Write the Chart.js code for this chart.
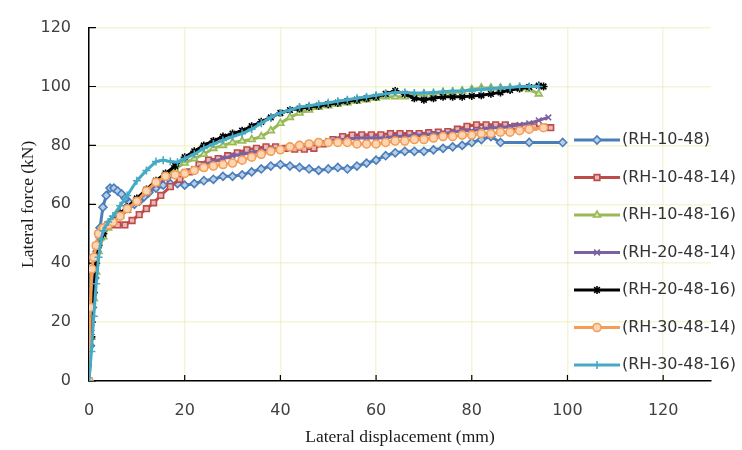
<!DOCTYPE html>
<html>
<head>
<meta charset="utf-8">
<script src="https://cdn.jsdelivr.net/npm/chart.js@4.4.1/dist/chart.umd.min.js"></script>
<style>
  html, body { margin: 0; padding: 0; background: #fff; }
  #wrap { width: 742px; height: 450px; }
</style>
</head>
<body>
<div id="wrap"><canvas id="chart" width="742" height="450"></canvas></div>
<script>
// values (displacement mm -> lateral force kN)
const seriesNames = ["(RH-10-48)", "(RH-10-48-14)", "(RH-10-48-16)", "(RH-20-48-14)", "(RH-20-48-16)", "(RH-30-48-14)", "(RH-30-48-16)"];
const xTicks = [0, 20, 40, 60, 80, 100, 120];
const yTicks = [0, 20, 40, 60, 80, 100, 120];

const rh1048X = [0, 0.3, 0.7, 1.2, 1.7, 2.3, 2.9, 3.6, 4.4, 5.2, 6, 6.8, 7.6, 8.5, 9.5, 10.5, 11.5, 12.5, 14, 15.5, 17, 18.5, 20, 22, 24, 26, 28, 30, 32, 34, 36, 38, 40, 42, 44, 46, 48, 50, 52, 54, 56, 58, 60, 62, 64, 66, 68, 70, 72, 74, 76, 78, 80, 82, 84, 86, 92, 99];
const rh1048Y = [0, 12, 25, 35, 44, 52, 59, 63, 65.5, 65.5, 64.5, 63.5, 62, 60.5, 60, 61, 62.5, 64, 65.5, 66.5, 67, 67, 66.5, 67, 68, 68.5, 69.5, 69.5, 70, 71, 72, 73, 73.5, 73, 72.5, 72, 71.5, 72, 72.5, 72, 73, 74, 75, 76.5, 77.5, 78, 78, 78, 78.5, 79, 79.5, 80, 81, 82, 83, 81, 81, 81];

const rh104814X = [0, 0.5, 1, 1.5, 2, 3, 4.5, 6, 7.5, 9, 10.5, 12, 13.5, 15, 17, 19, 21, 23, 25, 27, 29, 31, 33, 35, 37, 39, 41, 43, 45, 47, 49, 51, 53, 55, 57, 59, 61, 63, 65, 67, 69, 71, 73, 75, 77, 79, 81, 83, 85, 87, 89, 91, 93, 95, 96.5];
const rh104814Y = [0, 22, 36, 46, 50, 52, 53, 53, 53, 54.5, 56.5, 58.5, 60.5, 63, 66, 68.5, 71, 73.5, 75, 75.5, 76.5, 77.5, 78.5, 79, 79.5, 79.5, 79, 78.7, 78.7, 79, 80.5, 82, 83, 83.5, 83.6, 83.6, 83.6, 84, 84, 84, 84, 84.3, 84.5, 84.7, 85.5, 86.5, 87, 87, 87, 87, 86.5, 86.5, 86.3, 86.2, 86];

const rh104816X = [0, 0.5, 1, 1.5, 2, 3, 4, 5, 6.5, 8, 10, 12, 14, 16, 18, 20, 22, 24, 26, 28, 30, 32, 34, 36, 38, 40, 42, 44, 46, 48, 50, 52, 54, 56, 58, 60, 62, 64, 66, 68, 70, 72, 74, 76, 78, 80, 82, 84, 86, 88, 90, 92, 94];
const rh104816Y = [0, 15, 28, 37, 44, 49, 52, 54, 56, 58, 61, 64, 67, 70, 72, 74, 75.5, 77, 79, 80, 81, 81.5, 82, 83, 85, 87.5, 89.5, 91, 92, 93, 93.5, 94, 94.5, 95, 95.5, 96, 96.5, 96.5, 96.5, 97, 97.5, 97.5, 98, 98, 98.5, 99, 99.5, 99.5, 99.5, 99.5, 99.5, 99, 97.5];

const rh204814X = [0, 0.5, 1, 1.5, 2, 3, 4, 5, 6.5, 8, 10, 12, 14, 16, 18, 20, 22, 24, 26, 28, 30, 32, 34, 36, 38, 40, 42, 44, 46, 48, 50, 52, 54, 56, 58, 60, 62, 64, 66, 68, 70, 72, 74, 76, 78, 80, 82, 84, 86, 88, 90, 92, 94, 96];
const rh204814Y = [0, 18, 32, 42, 48, 51, 53, 54, 56, 58, 61, 64, 66.5, 68.5, 70, 71, 72, 73.5, 74.5, 75.5, 76.5, 77, 77.5, 78, 78.5, 79, 79.5, 80, 80.5, 81, 81.5, 82, 82, 82.5, 82.5, 82.5, 82.5, 83, 83, 83.5, 83.5, 84, 84, 84.5, 85, 85, 85.5, 86, 86, 86.5, 87, 87.5, 88.5, 89.5];

const rh204816X = [0, 0.5, 1, 1.5, 2, 3, 4, 5, 6.5, 8, 10, 12, 14, 16, 18, 20, 22, 24, 26, 28, 30, 32, 34, 36, 38, 40, 42, 44, 46, 48, 50, 52, 54, 56, 58, 60, 62, 64, 66, 68, 70, 72, 74, 76, 78, 80, 82, 84, 86, 88, 90, 92, 94, 95];
const rh204816Y = [0, 15, 30, 40, 46, 50, 53, 55, 57, 59, 62, 65, 68, 70.5, 73, 76, 78, 80, 81.5, 83, 84, 85, 86.5, 88, 89.5, 91, 92, 92.5, 93, 93.5, 94, 94.5, 95, 95.5, 96, 96.5, 97.5, 98.5, 97.5, 96, 95.5, 96, 96.5, 96.5, 96.5, 96.8, 97, 97.5, 98, 98.8, 99.3, 99.8, 100.3, 100];

const rh304814X = [0, 0.3, 0.6, 1, 1.5, 2, 3, 4, 5, 6.5, 8, 10, 12, 14, 16, 18, 20, 22, 24, 26, 28, 30, 32, 34, 36, 38, 40, 42, 44, 46, 48, 50, 52, 54, 56, 58, 60, 62, 64, 66, 68, 70, 72, 74, 76, 78, 80, 82, 84, 86, 88, 90, 92, 95];
const rh304814Y = [0, 25, 38, 42, 46, 50, 52, 53, 54, 56, 58.5, 61, 64.5, 67.5, 69.5, 70, 70.5, 71.5, 72.5, 73, 73.5, 74, 75, 76, 77, 78, 78.5, 79.5, 80, 80.5, 81, 81, 81, 81, 80.5, 80.5, 80.5, 81, 81.5, 81.5, 82, 82, 82.5, 83, 83, 83.5, 83.5, 84, 84, 84.5, 84.5, 85, 85.5, 86];

const rh304816X = [0, 0.5, 1, 1.5, 2, 2.5, 3, 4, 5, 6.5, 8, 10, 12, 14, 15.5, 17, 18.5, 20, 22, 24, 26, 28, 30, 32, 34, 36, 38, 40, 42, 44, 46, 48, 50, 52, 54, 56, 58, 60, 62, 64, 66, 68, 70, 72, 74, 76, 78, 80, 82, 84, 86, 88, 90, 92, 94];
const rh304816Y = [0, 10, 22, 33, 42, 48, 51, 54, 56, 59.5, 63, 68, 71.5, 74.5, 75, 74.5, 74.3, 75.5, 77, 79, 80.5, 81.7, 83, 84, 85.5, 87.5, 89.5, 91, 92, 93, 93.5, 94, 94.5, 95, 95.5, 96, 96.5, 97, 97.5, 98, 98, 97.8, 97.8, 98, 98.2, 98.5, 98.5, 98.8, 99, 99.3, 99.5, 99.7, 100, 100, 100];

const seriesX = [rh1048X, rh104814X, rh104816X, rh204814X, rh204816X, rh304814X, rh304816X];
const seriesY = [rh1048Y, rh104814Y, rh104816Y, rh204814Y, rh204816Y, rh304814Y, rh304816Y];

// Excel-like styling per series
const lineColors = ["#4A7EBB", "#BE4B48", "#98B954", "#7D60A0", "#000000", "#F59D56", "#46AAC5"];
const fillColors = ["#B9CDE5", "#E6B9B8", "#D7E4BD", "#7D60A0", "#000000", "#FCD5B5", "#46AAC5"];
const markers = ["rectRot", "rect", "triangle", "crossRot", "star", "circle", "cross"];

const datasets = seriesNames.map((name, i) => ({
  label: name,
  data: seriesX[i].map((x, j) => ({ x, y: seriesY[i][j] })),
  borderColor: lineColors[i],
  borderWidth: 3,
  pointStyle: markers[i],
  pointRadius: 4,
  pointBorderWidth: 1.6,
  pointBackgroundColor: fillColors[i],
  pointBorderColor: lineColors[i],
  tension: 0,
  order: seriesNames.length - i
}));

const sideLegend = {
  id: "sideLegend",
  afterDraw(chart) {
    const ctx = chart.ctx;
    ctx.save();
    chart.data.datasets.forEach((ds, i) => {
      const y = 140 + i * 37.5;
      ctx.strokeStyle = ds.borderColor;
      ctx.lineWidth = ds.borderWidth;
      ctx.beginPath(); ctx.moveTo(574, y); ctx.lineTo(620, y); ctx.stroke();
      ctx.fillStyle = ds.pointBackgroundColor;
      ctx.strokeStyle = ds.pointBorderColor;
      ctx.lineWidth = ds.pointBorderWidth;
      Chart.helpers.drawPoint(ctx, { pointStyle: ds.pointStyle, radius: 4, rotation: 0, borderWidth: ds.pointBorderWidth }, 597, y);
      ctx.fillStyle = "#333";
      ctx.font = "16px 'DejaVu Sans'";
      ctx.textBaseline = "middle";
      ctx.textAlign = "left";
      ctx.fillText(ds.label, 622, y);
    });
    ctx.restore();
  }
};

// small tick marks pointing into the plot
const innerTicks = {
  id: "innerTicks",
  beforeDatasetsDraw(chart) {
    const { ctx, chartArea: a, scales: { x, y } } = chart;
    ctx.save();
    ctx.strokeStyle = "#000";
    ctx.lineWidth = 1.2;
    ctx.beginPath();
    yTicks.forEach(v => { const p = y.getPixelForValue(v); ctx.moveTo(a.left, p); ctx.lineTo(a.left + 7, p); });
    xTicks.forEach(v => { const p = x.getPixelForValue(v); ctx.moveTo(p, a.bottom); ctx.lineTo(p, a.bottom - 6); });
    ctx.stroke();
    ctx.restore();
  }
};

const gridColor = "rgba(232,232,160,0.45)";

new Chart(document.getElementById("chart").getContext("2d"), {
  type: "line",
  data: { datasets },
  plugins: [innerTicks, sideLegend],
  options: {
    responsive: false,
    animation: false,
    layout: { padding: { top: 18, right: 31, left: 0, bottom: 0 } },
    plugins: { legend: { display: false }, tooltip: { enabled: false } },
    scales: {
      x: {
        type: "linear",
        min: 0, max: 130,
        afterFit: s => { s.height = 69; },
        afterBuildTicks: s => { s.ticks = xTicks.map(v => ({ value: v })); },
        ticks: { color: "#404040", font: { family: "DejaVu Sans", size: 16 }, padding: 20, maxRotation: 0 },
        grid: { color: gridColor, lineWidth: 1.5, drawTicks: false },
        border: { color: "#000", width: 1.5 },
        title: { display: true, text: "Lateral displacement (mm)", color: "#1a1a1a", font: { family: "Liberation Serif", size: 17.5 }, padding: { top: 0, bottom: 2 } }
      },
      y: {
        min: 0, max: 120,
        afterFit: s => { s.width = 89; },
        afterBuildTicks: s => { s.ticks = yTicks.map(v => ({ value: v })); },
        ticks: { color: "#404040", font: { family: "DejaVu Sans", size: 16 }, padding: 18 },
        grid: { color: gridColor, lineWidth: 1.5, drawTicks: false },
        border: { color: "#000", width: 1.5 },
        title: { display: true, text: "Lateral force (kN)", color: "#1a1a1a", font: { family: "Liberation Serif", size: 17.5 }, padding: { top: 18, bottom: 0 } }
      }
    }
  }
});
</script>
</body>
</html>
